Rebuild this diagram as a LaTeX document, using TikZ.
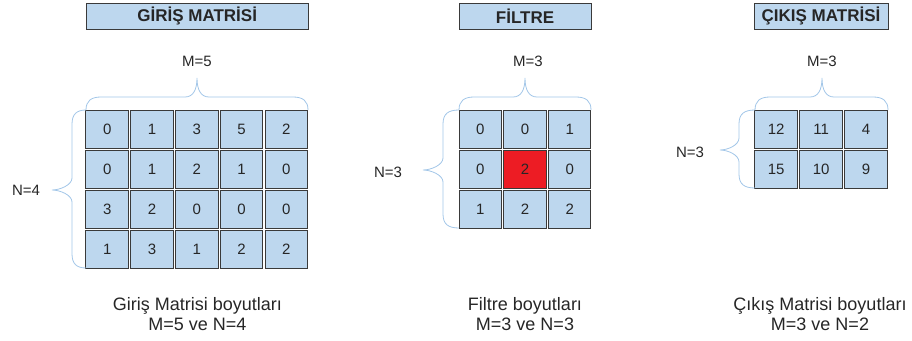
\documentclass[tikz,border=0pt]{standalone}
\usepackage{fontspec}
\setmainfont{Liberation Sans}
\usepackage{tikz}

\definecolor{cellblue}{HTML}{BDD7EE}
\definecolor{cellred}{HTML}{ED1C24}
\definecolor{cellline}{HTML}{3A3A3A}
\definecolor{bracecol}{HTML}{A2C6E8}
\definecolor{inktext}{HTML}{262626}

\tikzset{
  cell/.style={draw=cellline, line width=1pt, fill=cellblue, minimum width=42.5pt,
    minimum height=38pt, inner sep=0pt, text=inktext, font=\fontsize{15}{17}\selectfont},
  titlebox/.style={draw=cellline, line width=1pt, fill=cellblue, minimum height=26pt,
    inner sep=0pt, text=inktext, font=\fontsize{17}{19}\selectfont\bfseries},
  dimlabel/.style={text=inktext, font=\fontsize{15}{17}\selectfont},
  caption/.style={align=center, text=inktext, font=\fontsize{18}{20}\selectfont},
  bracket/.style={draw=bracecol, line width=0.8pt},
}

% brace above a matrix: left end, tip, right end
\newcommand{\topbrace}[3]{%
  \draw[bracket] (#1,110) .. controls (#1,101) and ({#1+5},97) .. ({#1+15},97)
    -- ({#2-12},97) .. controls ({#2-4},97) and (#2,90) .. (#2,78)
    .. controls (#2,90) and ({#2+4},97) .. ({#2+12},97)
    -- ({#3-15},97) .. controls ({#3-5},97) and (#3,101) .. (#3,110);}
% brace left of a matrix: edge x, line x, tip x, top y, tip y, bottom y
\newcommand{\leftbrace}[6]{%
  \draw[bracket] (#1,#4) .. controls ({#2+5},#4) and (#2,{#4+4}) .. (#2,{#4+14})
    -- (#2,{#5-12}) .. controls (#2,{#5-5}) and ({#3+8},#5) .. (#3,#5)
    .. controls ({#3+8},#5) and (#2,{#5+5}) .. (#2,{#5+12})
    -- (#2,{#6-14}) .. controls (#2,{#6-4}) and ({#2+5},#6) .. (#1,#6);}

\begin{document}
\begin{tikzpicture}[x=1pt, y=-1pt]
\useasboundingbox (0,0) rectangle (912,340);

% titles
\node[titlebox, minimum width=222pt] (in-title) at (197.2,16) {GİRİŞ MATRİSİ};
\node[titlebox, minimum width=132pt] (flt-title) at (525,16) {FİLTRE};
\node[titlebox, minimum width=134pt] (out-title) at (821,16) {ÇIKIŞ MATRİSİ};

% input matrix
\foreach \row [count=\i] in {{0,1,3,5,2},{0,1,2,1,0},{3,2,0,0,0},{1,3,1,2,2}}
  \foreach \val [count=\j] in \row
    \node[cell] (in-\i-\j) at ({107.2+44.8*(\j-1)}, {129.2+40*(\i-1)}) {\val};

% filter
\foreach \row [count=\i] in {{0,0,1},{0,2,0},{1,2,2}}
  \foreach \val [count=\j] in \row {
    \ifnum\i\j=22 \def\cellfill{cellred}\else\def\cellfill{cellblue}\fi
    \node[cell, fill=\cellfill] (flt-\i-\j) at ({480.3+44.7*(\j-1)}, {129.2+40*(\i-1)}) {\val};
  }

% output matrix
\foreach \row [count=\i] in {{12,11,4},{15,10,9}}
  \foreach \val [count=\j] in \row
    \node[cell] (out-\i-\j) at ({776.2+44.9*(\j-1)}, {129.2+40*(\i-1)}) {\val};

% braces
\topbrace{86}{197}{308}
\topbrace{459}{525}{591}
\topbrace{755}{822}{888}
\leftbrace{86}{72}{52}{110}{190}{268}
\leftbrace{459}{443}{423}{110}{170}{228}
\leftbrace{755}{739}{720}{110}{150}{188}

% sizes
\node[dimlabel] (in-m) at (197,61) {M=5};
\node[dimlabel] (in-n) at (26,190) {N=4};
\node[dimlabel] (flt-m) at (528,61) {M=3};
\node[dimlabel] (flt-n) at (388,172) {N=3};
\node[dimlabel] (out-m) at (822,61) {M=3};
\node[dimlabel] (out-n) at (690,152) {N=3};

% captions
\node[caption] (in-cap) at (197.5,314) {Giriş Matrisi boyutları\\M=5 ve N=4};
\node[caption] (flt-cap) at (525,314) {Filtre boyutları\\M=3 ve N=3};
\node[caption] (out-cap) at (820,314) {Çıkış Matrisi boyutları\\M=3 ve N=2};
\end{tikzpicture}
\end{document}
